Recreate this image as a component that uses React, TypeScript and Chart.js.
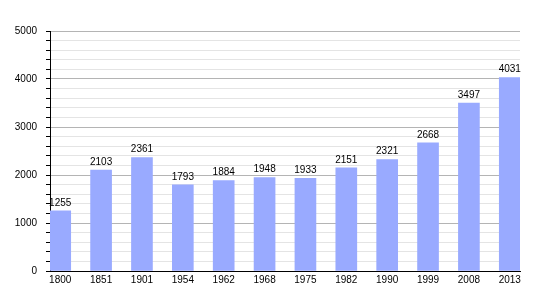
import React, { useEffect, useRef } from "react";
import { Chart, registerables } from "chart.js";

Chart.register(...registerables);

const categories = ["1800", "1851", "1901", "1954", "1962", "1968", "1975", "1982", "1990", "1999", "2008", "2013"];
const population = [1255, 2103, 2361, 1793, 1884, 1948, 1933, 2151, 2321, 2668, 3497, 4031];
const yTickLabels = [0, 1000, 2000, 3000, 4000, 5000];

const FONT = "'Liberation Sans', Arial, sans-serif";

const valueLabels = {
  id: "valueLabels",
  afterDatasetsDraw(chart: any) {
    const ctx = chart.ctx;
    const meta = chart.getDatasetMeta(0);
    ctx.save();
    ctx.fillStyle = "#000";
    ctx.font = `10px ${FONT}`;
    ctx.textAlign = "center";
    ctx.textBaseline = "bottom";
    meta.data.forEach((el: any, i: number) => {
      ctx.fillText(String(population[i]), el.x, el.y - 3);
    });
    ctx.restore();
  },
};

export default function App() {
  const ref = useRef<HTMLCanvasElement | null>(null);
  useEffect(() => {
    if (!ref.current) return;
    const chart = new Chart(ref.current, {
      type: "bar",
      data: {
        datasets: [
          {
            data: population.map((v, i) => ({ x: i, y: v })),
            backgroundColor: "#99aaff",
            borderWidth: 0,
            barThickness: 21,
          },
        ],
      },
      options: {
        animation: false,
        responsive: false,
        maintainAspectRatio: false,
        layout: { padding: { top: 31, right: 30, bottom: 0, left: 0 } },
        plugins: { legend: { display: false }, tooltip: { enabled: false } },
        scales: {
          x: {
            type: "linear",
            offset: false,
            min: -0.25,
            max: 11.25,
            afterBuildTicks: (scale: any) => {
              scale.ticks = categories.map((_, i) => ({ value: i }));
            },
            afterFit: (scale: any) => {
              scale.height = 29;
            },
            grid: { display: false, drawTicks: false },
            border: { color: "#000", width: 1 },
            ticks: {
              color: "#000",
              font: { family: FONT, size: 10 },
              padding: 3,
              maxRotation: 0,
              autoSkip: false,
              callback: (v: any) => categories[v as number] ?? "",
            },
          },
          y: {
            min: 0,
            max: 5000,
            afterFit: (scale: any) => {
              scale.width = 50;
            },
            grid: {
              color: (c: any) => (c.tick && c.tick.value % 1000 === 0 ? "#b4b4b4" : "#e4e4e4"),
              tickColor: "#000",
              tickLength: 4,
            },
            border: { color: "#000", width: 1 },
            ticks: {
              stepSize: 200,
              color: "#000",
              font: { family: FONT, size: 10 },
              padding: 9,
              autoSkip: false,
              callback: (v: any) => (yTickLabels.includes(v as number) ? String(v) : ""),
            },
          },
        },
      },
      plugins: [valueLabels],
    });
    return () => chart.destroy();
  }, []);
  return (
    <div style={{ position: "absolute", left: 0, top: 0, width: 550, height: 300, background: "#fff" }}>
      <canvas ref={ref} width={550} height={300} style={{ width: 550, height: 300 }} />
    </div>
  );
}
